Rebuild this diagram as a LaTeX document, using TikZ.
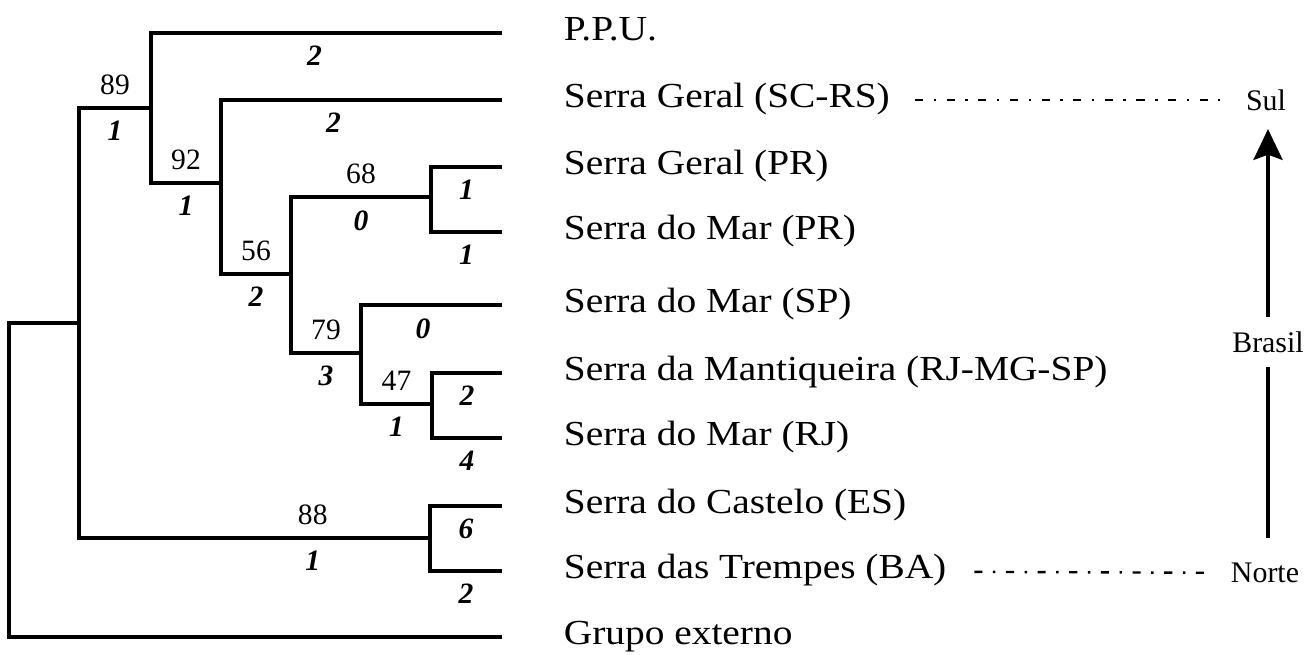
\documentclass[tikz,border=0pt]{standalone}
\usepackage{fontspec}
\setmainfont{Liberation Serif}
\usetikzlibrary{arrows.meta,positioning}

\begin{document}
\begin{tikzpicture}[x=0.01cm,y=-0.01cm,line width=0.95pt,
	boot/.style={font=\fontsize{8.4}{10}\selectfont,above},
	steps/.style={font=\fontsize{8.4}{10}\selectfont\bfseries\itshape,below},
	leaf/.style={anchor=west,inner sep=0pt,text height=0.69em,text depth=0.25em,xscale=1.12,font=\fontsize{10}{12}\selectfont},
	geo/.style={font=\fontsize{8.5}{10}\selectfont},
	dashdot/.style={line width=0.7pt,dash pattern=on 2.3pt off 3pt on 0.7pt off 3pt}]
	\useasboundingbox (0,0) rectangle (1315,655);
	\begin{scope}
		\coordinate (R) at (9,323);
		\coordinate (A) at (79,323);
		\coordinate (B) at (151,108);
		\coordinate (C) at (221,183);
		\coordinate (D) at (291,274);
		\coordinate (E) at (431,197);
		\coordinate (F) at (361,353);
		\coordinate (G) at (432,404);
		\coordinate (H) at (430,538);
		\coordinate (tPPU) at (502,33);
		\coordinate (tSCRS) at (502,100);
		\coordinate (tGPR) at (502,167);
		\coordinate (tMPR) at (502,232);
		\coordinate (tSP) at (502,305);
		\coordinate (tMG) at (502,373);
		\coordinate (tRJ) at (502,438);
		\coordinate (tES) at (502,506);
		\coordinate (tBA) at (502,571);
		\coordinate (tOut) at (502,637);
	\end{scope}
	\begin{scope}[every node/.style={leaf}]
		\node (ppu) at (562,33) {P.P.U.};
		\node (scrs) at (562,100) {Serra Geral (SC-RS)};
		\node (gpr) at (562,167) {Serra Geral (PR)};
		\node (mpr) at (562,232) {Serra do Mar (PR)};
		\node (msp) at (562,305) {Serra do Mar (SP)};
		\node (mant) at (562,373) {Serra da Mantiqueira (RJ-MG-SP)};
		\node (mrj) at (562,438) {Serra do Mar (RJ)};
		\node (ces) at (562,506) {Serra do Castelo (ES)};
		\node (tba) at (562,571) {Serra das Trempes (BA)};
		\node (ext) at (562,637) {Grupo externo};
	\end{scope}
	\draw (A) -- (R) |- (tOut);
	\draw (A) |- (B) node[boot,pos=.75] (b89) {89} node[steps,pos=.75] (s89) {1};
	\draw (A) |- (H) node[boot,pos=.833] (b88) {88} node[steps,pos=.833] (s88) {1};
	\draw (B) |- (tPPU) node[steps,pos=.733] (sppu) {2};
	\draw (B) |- (C) node[boot,pos=.75] (b92) {92} node[steps,pos=.75] (s92) {1};
	\draw (C) |- (tSCRS) node[steps,pos=.7] (sscrs) {2};
	\draw (C) |- (D) node[boot,pos=.75] (b56) {56} node[steps,pos=.75] (s56) {2};
	\draw (D) |- (E) node[boot,pos=.75] (b68) {68} node[steps,pos=.75] (s68) {0};
	\draw (D) |- (F) node[boot,pos=.75] (b79) {79} node[steps,pos=.75] (s79) {3};
	\draw (E) |- (tGPR) node[steps,pos=.75] (sgpr) {1};
	\draw (E) |- (tMPR) node[steps,pos=.75] (smpr) {1};
	\draw (F) |- (tSP) node[steps,pos=.72] (smsp) {0};
	\draw (F) |- (G) node[boot,pos=.75] (b47) {47} node[steps,pos=.75] (s47) {1};
	\draw (G) |- (tMG) node[steps,pos=.75] (smant) {2};
	\draw (G) |- (tRJ) node[steps,pos=.75] (smrj) {4};
	\draw (H) |- (tES) node[steps,pos=.75] (sces) {6};
	\draw (H) |- (tBA) node[steps,pos=.75] (stba) {2};

	\node[geo] (sul) at (1266,100) {Sul};
	\node[geo] (norte) at (1265,573) {Norte};
	\node[geo,inner ysep=3.6pt] (brasil) at (1268,342) {Brasil};
	\coordinate (nbase) at (1268,538);
	\coordinate (stip) at (1268,129);
	\draw (nbase) -- (brasil);
	\draw[-{Stealth[length=8.8pt,width=8.3pt,inset=1.5pt]}] (brasil) -- (stip);
	\draw[dashdot,shorten <=6.6pt,shorten >=3.7pt] (scrs) -- (sul);
	\draw[dashdot,shorten <=7.4pt,shorten >=1.5pt] (tba) -- (norte);
\end{tikzpicture}
\end{document}
